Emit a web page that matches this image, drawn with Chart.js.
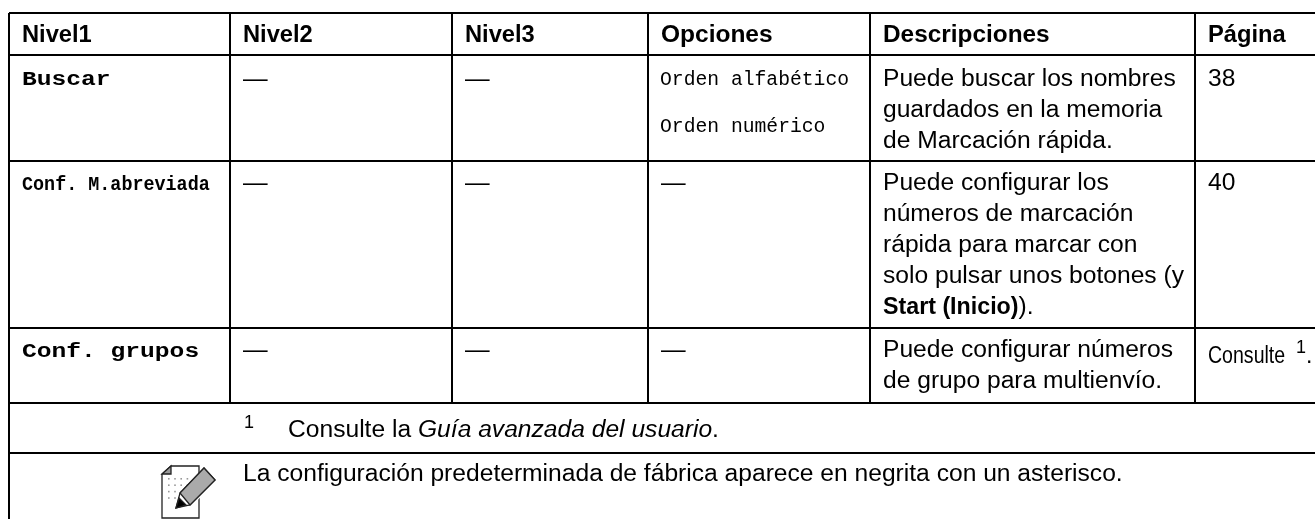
<!DOCTYPE html>
<html>

<head>
    <title>Niveles de menú</title>
    <style>
        html, body { margin: 0; padding: 0; background: #fff; }
        #wrap { position: relative; width: 1315px; height: 519px; }
    </style>
</head>

<body>
    <div id="wrap"><canvas id="tableChart"></canvas></div>

    <script src="https://cdn.jsdelivr.net/npm/chart.js"></script>
    <script type="text/javascript">
        const headers = ['Nivel1', 'Nivel2', 'Nivel3', 'Opciones', 'Descripciones', 'Página'];
        const nivel1 = ['Buscar', 'Conf. M.abreviada', 'Conf. grupos'];
        const nivel2 = ['—', '—', '—'];
        const nivel3 = ['—', '—', '—'];
        const opciones = [['Orden alfabético', 'Orden numérico'], ['—'], ['—']];
        const descripciones = [
            ['Puede buscar los nombres', 'guardados en la memoria', 'de Marcación rápida.'],
            ['Puede configurar los', 'números de marcación', 'rápida para marcar con', 'solo pulsar unos botones (y'],
            ['Puede configurar números', 'de grupo para multienvío.']
        ];
        const startBold = 'Start (Inicio)';
        const startRest = ').';
        const paginas = ['38', '40', 'Consulte'];
        const footnote = ['Consulte la ', 'Guía avanzada del usuario', '.'];
        const noteText = 'La configuración predeterminada de fábrica aparece en negrita con un asterisco.';

        // table rules, in page pixels (the axes run 0-1315 and 0-519)
        const columnRules = [9, 230, 452, 648, 870, 1195];
        const rowRules = [13, 55, 161, 328, 403, 453];
        const tableRight = 1315;
        const tableBottom = 519;

        const SANS = '"Liberation Sans", Arial, sans-serif';
        const MONO = '"Liberation Mono", monospace';

        function ruleDatasets() {
            const sets = [];
            rowRules.forEach(y => sets.push({ data: [{ x: columnRules[0], y }, { x: tableRight, y }] }));
            columnRules.forEach((x, i) => {
                const end = i === 0 ? tableBottom : rowRules[4];
                sets.push({ data: [{ x, y: rowRules[0] }, { x, y: end }] });
            });
            return sets.map(s => Object.assign(s, {
                showLine: true, borderColor: '#000', borderWidth: 2, pointRadius: 0
            }));
        }

        const tableText = {
            id: 'tableText',
            afterDraw(chart) {
                const ctx = chart.ctx;
                const xs = chart.scales.x;
                const ys = chart.scales.y;
                ctx.save();
                ctx.fillStyle = '#000';
                ctx.textBaseline = 'alphabetic';
                ctx.textAlign = 'left';

                function put(text, x, y, font, stretch) {
                    ctx.save();
                    ctx.font = font;
                    ctx.translate(xs.getPixelForValue(x), ys.getPixelForValue(y));
                    ctx.scale(stretch || 1, 1);
                    ctx.fillText(text, 0, 0);
                    const w = ctx.measureText(text).width * (stretch || 1);
                    ctx.restore();
                    return w;
                }

                const colX = [22, 243, 465, 661, 883, 1208];
                const headStretch = [1.03, 1.03, 1.03, 1.065, 1.06, 1.03];
                const BODY = '23px ' + SANS;
                const BODY_STRETCH = 1.07;
                const LINE_GAP = 31;
                const firstLine = [86, 190, 357];

                headers.forEach((h, i) => put(h, colX[i], 42, 'bold 23px ' + SANS, headStretch[i]));

                put(nivel1[0], 22, 85, 'bold 20px ' + MONO, 1.23);
                put(nivel1[1], 22, 190, 'bold 20px ' + MONO, 0.92);
                put(nivel1[2], 22, 357, 'bold 20px ' + MONO, 1.23);
                nivel2.forEach((t, i) => put(t, colX[1], firstLine[i], BODY, BODY_STRETCH));
                nivel3.forEach((t, i) => put(t, colX[2], firstLine[i], BODY, BODY_STRETCH));

                put(opciones[0][0], 660, 85, '19.7px ' + MONO);
                put(opciones[0][1], 660, 132, '19.7px ' + MONO);
                put(opciones[1][0], colX[3], firstLine[1], BODY, BODY_STRETCH);
                put(opciones[2][0], colX[3], firstLine[2], BODY, BODY_STRETCH);

                descripciones.forEach((lines, i) => {
                    lines.forEach((t, j) => put(t, colX[4], firstLine[i] + j * LINE_GAP, BODY, BODY_STRETCH));
                });
                const startY = firstLine[1] + 4 * LINE_GAP;
                const startW = put(startBold, colX[4], startY, 'bold 23px ' + SANS, 1.01);
                put(startRest, colX[4] + startW, startY, BODY, BODY_STRETCH);

                put(paginas[0], colX[5], firstLine[0], BODY, BODY_STRETCH);
                put(paginas[1], colX[5], firstLine[1], BODY, BODY_STRETCH);
                put(paginas[2], colX[5], 363, BODY, 0.85);
                put('1', 1296, 353, '18px ' + SANS);
                put('.', 1306, 363, BODY);

                // footnote
                put('1', 244, 428, '18px ' + SANS);
                let fx = 288;
                fx += put(footnote[0], fx, 437, BODY, BODY_STRETCH);
                fx += put(footnote[1], fx, 437, 'italic 23px ' + SANS, BODY_STRETCH);
                put(footnote[2], fx, 437, BODY, BODY_STRETCH);

                put(noteText, 243, 481, BODY, BODY_STRETCH);

                // note-and-pencil icon
                const px = v => xs.getPixelForValue(v);
                const py = v => ys.getPixelForValue(v);
                function shape(points, fill, stroke) {
                    ctx.beginPath();
                    points.forEach((p, i) => i ? ctx.lineTo(px(p[0]), py(p[1])) : ctx.moveTo(px(p[0]), py(p[1])));
                    if (fill) {
                        ctx.closePath();
                        ctx.fillStyle = fill;
                        ctx.fill();
                    }
                    if (stroke) {
                        ctx.stroke();
                    }
                }
                ctx.strokeStyle = '#222';
                ctx.lineWidth = 1.3;
                shape([[199, 466], [199, 518], [162, 518], [162, 474], [171, 466]], '#fff', true);
                shape([[171, 466], [162, 474], [171, 474]], '#999', true);
                ctx.fillStyle = '#999';
                for (let r = 0; r < 4; r++) {
                    for (let c = 0; c < 4; c++) {
                        ctx.fillRect(px(168 + c * 6.2), py(478 + r * 6.4), 1.6, 1.6);
                    }
                }
                // pencil, white margin first so it cuts the page edge
                ctx.strokeStyle = '#fff';
                ctx.lineWidth = 4;
                shape([[204, 468], [215, 480], [190, 505], [176, 508], [180, 493]], null, true);
                ctx.strokeStyle = '#222';
                ctx.lineWidth = 1.3;
                shape([[204, 468], [215, 480], [190, 505], [176, 508], [180, 493]], '#fff', true);
                shape([[204, 468], [215, 480], [190, 505], [180, 493]], '#aaa', true);
                shape([[179, 498], [176, 508], [186, 505]], '#000', true);
                ctx.restore();
            }
        };

        new Chart(document.getElementById('tableChart'), {
            type: 'scatter',
            data: { datasets: ruleDatasets() },
            plugins: [tableText],
            options: {
                responsive: true,
                maintainAspectRatio: false,
                animation: false,
                layout: { padding: 0 },
                plugins: { legend: { display: false }, tooltip: { enabled: false } },
                scales: {
                    x: { type: 'linear', min: 0, max: tableRight, display: false },
                    y: { type: 'linear', min: 0, max: tableBottom, reverse: true, display: false }
                }
            }
        });
    </script>
</body>

</html>
